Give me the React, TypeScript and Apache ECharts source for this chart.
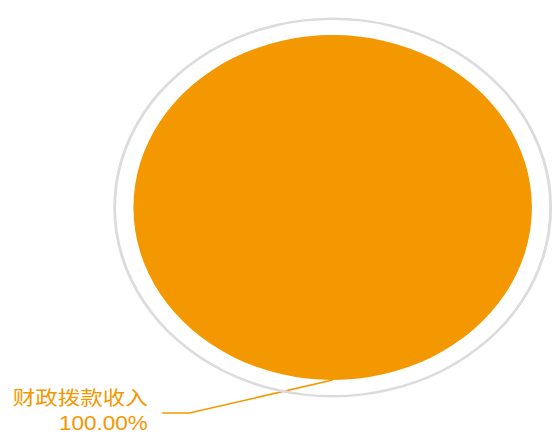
import React, { useEffect, useRef } from "react";
import * as echarts from "echarts";

const categories: string[] = ["财政拨款收入"];
const values: number[] = [100];
const ringValues: number[] = [1];

const ORANGE = "#f39800";
const RING = "#dcdcdc";
const SCALE_X = 1.155;

export default function App() {
  const ref = useRef<HTMLDivElement>(null);

  useEffect(() => {
    if (!ref.current) return;
    const chart = echarts.init(ref.current, undefined, { renderer: "svg" });
    const data = categories.map((name, i) => ({ name, value: values[i] }));
    chart.setOption({
      animation: false,
      color: [ORANGE],
      series: [
        {
          type: "pie",
          name: "ring",
          silent: true,
          center: [288, 207.5],
          radius: [187.5, 190],
          label: { show: false },
          labelLine: { show: false },
          itemStyle: { color: RING },
          data: ringValues.map((v) => ({ name: "", value: v })),
        },
        {
          type: "pie",
          name: "income",
          center: [288, 207.5],
          radius: [0, 172.5],
          avoidLabelOverlap: false,
          startAngle: 89.99,
          itemStyle: { color: ORANGE },
          label: {
            show: true,
            position: "outside",
            formatter: (p: any) => `${p.name}\n${Number(p.percent).toFixed(2)}%`,
            color: ORANGE,
            fontSize: 19.5,
            lineHeight: 25,
            fontFamily: "'Liberation Sans', 'Noto Sans CJK SC', sans-serif",
          },
          labelLine: {
            show: true,
            lineStyle: { color: ORANGE, width: 1.5 },
          },
          labelLayout: (params: any) => {
            const r = params.rect;
            const bx = r.x + r.width / 2;
            const by = r.y + r.height;
            return {
              x: bx - 160,
              y: by + 31,
              align: "right",
              verticalAlign: "middle",
              labelLinePoints: [
                [bx, by],
                [bx - 124, by + 33],
                [bx - 147.5, by + 33],
              ],
            };
          },
          data,
        },
      ],
    });
    return () => chart.dispose();
  }, []);

  return (
    <div
      ref={ref}
      style={{
        position: "fixed",
        left: 0,
        top: 0,
        width: Math.round(553 / SCALE_X),
        height: 433,
        transform: `scaleX(${SCALE_X})`,
        transformOrigin: "0 0",
        background: "#fff",
      }}
    />
  );
}
